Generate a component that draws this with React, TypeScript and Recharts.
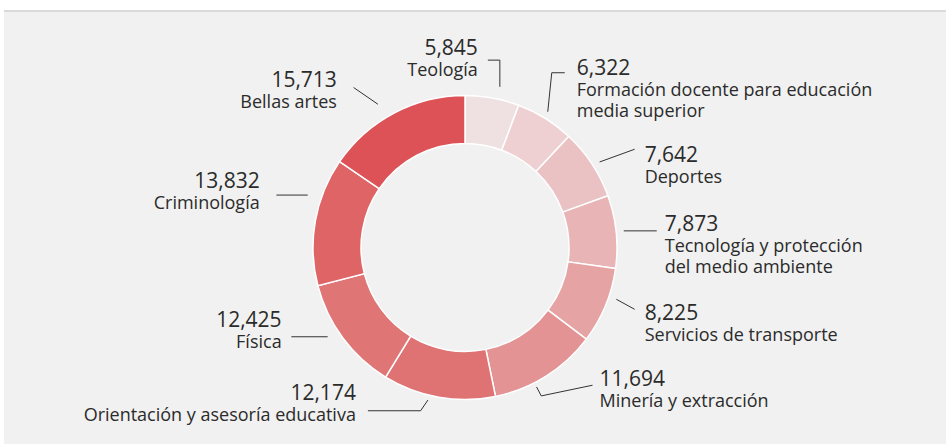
import React from 'react';
import { PieChart, Pie, Cell } from 'recharts';

const categories = [
  'Teología',
  'Formación docente para educación\nmedia superior',
  'Deportes',
  'Tecnología y protección\ndel medio ambiente',
  'Servicios de transporte',
  'Minería y extracción',
  'Orientación y asesoría educativa',
  'Física',
  'Criminología',
  'Bellas artes',
];
const values = [5845, 6322, 7642, 7873, 8225, 11694, 12174, 12425, 13832, 15713];
const sliceColors = [
  '#efe0e1', '#eed0d2', '#ebc2c3', '#e8b4b5', '#e5a3a4',
  '#e39394', '#df7273', '#e07575', '#de6466', '#dc5257',
];

// leader line layout per label: angle nudge, gap from ring, line segments, text offset
const leaders = [
  { dAngle: 1.9, gap: 12.4, path: [[0, -26.7], [-12, 0]], tx: -10, ty: -5, anchor: 'end' },
  { dAngle: -0.5, gap: 7, path: [[4, -39], [13, 0]], tx: 12, ty: 2.3, anchor: 'start' },
  { dAngle: 1, gap: 7.5, path: [[35, -12.7]], tx: 10, ty: 12.4, anchor: 'start' },
  { dAngle: 0, gap: 7.6, path: [[33, 0]], tx: 8, ty: 0, anchor: 'start' },
  { dAngle: -3.6, gap: 8, path: [[18.3, 10]], tx: 10, ty: 10.7, anchor: 'start' },
  { dAngle: 5.1, gap: 4.7, path: [[4.7, 9], [51.3, -10.7]], tx: 7, ty: 1, anchor: 'start' },
  { dAngle: 3.7, gap: 5, path: [[-7.3, 10.7], [-52.7, 0]], tx: -12, ty: -10.7, anchor: 'end' },
  { dAngle: 3.5, gap: 11.8, path: [[-36.3, 0]], tx: -9.7, ty: -10, anchor: 'end' },
  { dAngle: 8.5, gap: 13.8, path: [[-31.3, 0]], tx: -16.7, ty: -6.7, anchor: 'end' },
  { dAngle: -3.5, gap: 15.7, path: [[-24.3, -16.7]], tx: -16.7, ty: -0.6, anchor: 'end' },
];

const data = categories.map((name, i) => ({ name, value: values[i] }));

const FONT = '"Open Sans", sans-serif';
const TEXT = '#2b2b2b';

const renderLabel = (props: any) => {
  const { cx, cy, midAngle, outerRadius, index, value } = props;
  const l = leaders[index];
  const theta = ((90 - midAngle + l.dAngle) * Math.PI) / 180;
  const r = outerRadius + l.gap;
  let x = cx + r * Math.sin(theta);
  let y = cy - r * Math.cos(theta);
  const pts = [`${x},${y}`];
  l.path.forEach(([dx, dy]) => {
    x += dx;
    y += dy;
    pts.push(`${x},${y}`);
  });
  const tx = x + l.tx;
  const ty = y + l.ty;
  const lines = categories[index].split('\n');
  return (
    <g key={`lbl-${index}`}>
      <polyline points={pts.join(' ')} fill="none" stroke="#333" strokeWidth={1} />
      <text x={tx} y={ty} textAnchor={l.anchor} fill={TEXT} fontFamily={FONT} fontSize={21}>
        {value.toLocaleString('en-US')}
      </text>
      {lines.map((line, j) => (
        <text
          key={j}
          x={tx}
          y={ty + 21 * (j + 1)}
          textAnchor={l.anchor}
          fill={TEXT}
          fontFamily={FONT}
          fontSize={18}
        >
          {line}
        </text>
      ))}
    </g>
  );
};

export default function App() {
  return (
    <div style={{ position: 'absolute', left: 0, top: 0, width: 946, height: 444, background: '#fff' }}>
      <div
        style={{
          position: 'absolute',
          left: 4,
          top: 10,
          width: 942,
          height: 434,
          background: '#f0f1f0',
          borderTop: '2px solid #dadada',
        }}
      >
        <PieChart width={942} height={432} margin={{ top: 0, right: 0, bottom: 0, left: 0 }}>
          <Pie
            data={data}
            dataKey="value"
            nameKey="name"
            cx={461}
            cy={235.5}
            innerRadius={104}
            outerRadius={152}
            startAngle={90}
            endAngle={-270}
            stroke="#ffffff"
            strokeWidth={1.5}
            label={renderLabel}
            labelLine={false}
            isAnimationActive={false}
          >
            {data.map((d, i) => (
              <Cell key={d.name} fill={sliceColors[i]} />
            ))}
          </Pie>
        </PieChart>
      </div>
    </div>
  );
}
